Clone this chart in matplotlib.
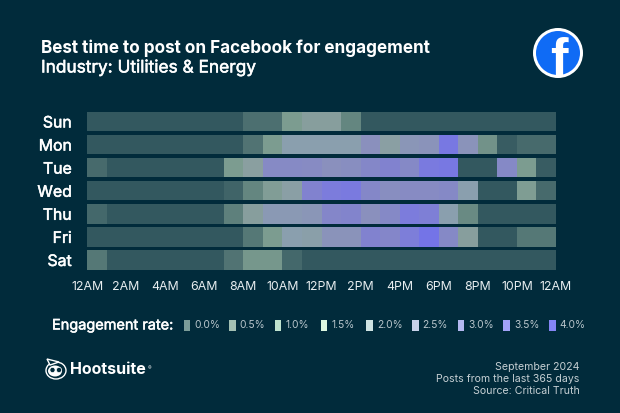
import numpy as np
import matplotlib.pyplot as plt
import matplotlib.patheffects as pe
from matplotlib.colors import LinearSegmentedColormap
from matplotlib.patches import Circle, Ellipse, Polygon, Rectangle

plt.rcParams['font.family'] = ['Inter', 'DejaVu Sans']

W, H = 620, 413
BG = '#012b3b'

days = ['Sun', 'Mon', 'Tue', 'Wed', 'Thu', 'Fri', 'Sat']
hour_labels = ['12AM', '2AM', '4AM', '6AM', '8AM', '10AM', '12PM',
               '2PM', '4PM', '6PM', '8PM', '10PM', '12AM']

# engagement rate by hour
sun = [0, 0, 0, 0, 0, 0, 0, 0, .5, .5, 1.0, 1.4, 1.4, .75, 0, 0, 0, 0, 0, 0, 0, 0, 0, 0]
mon = [0, 0, 0, 0, 0, 0, 0, 0, .55, 1.0, 2.0, 2.0, 2.0, 2.0, 2.5, 1.6, 2.3, 2.4, 3.7, 2.4, .9, .1, .4, .4]
tue = [.4, 0, 0, 0, 0, 0, 0, 1.0, 1.5, 2.75, 2.75, 2.7, 2.5, 2.6, 2.85, 3.1, 2.8, 3.6, 3.7, 0, 0, 2.8, 1.0, .1]
wed = [0, 0, 0, 0, 0, 0, 0, .25, .75, 1.2, 1.7, 3.1, 3.5, 3.6, 2.85, 2.6, 2.7, 2.7, 2.8, 2.0, 0, 0, 1.1, .4]
thu = [.35, 0, 0, 0, 0, 0, 0, .7, 1.4, 2.2, 2.2, 2.3, 2.9, 3.0, 2.5, 2.8, 3.5, 3.3, 2.0, .8, 0, 0, 0, 0]
fri = [0, 0, 0, 0, 0, 0, 0, 0, .6, 1.0, 2.0, 1.8, 2.4, 2.4, 3.1, 2.9, 3.4, 3.9, 2.8, 1.4, 0, 0, .6, .6]
sat = [.6, 0, 0, 0, 0, 0, 0, .55, .95, .95, .35, 0, 0, 0, 0, 0, 0, 0, 0, 0, 0, 0, 0, 0]
rates = [sun, mon, tue, wed, thu, fri, sat]

legend_values = ['0.0%', '0.5%', '1.0%', '1.5%', '2.0%', '2.5%', '3.0%', '3.5%', '4.0%']
legend_colors = ['#7c9d99', '#a3c0b3', '#bfe3cf', '#def8e0', '#cfe3e2',
                 '#c8d2ea', '#b4b8f0', '#a3a3f8', '#8585f5']
cell_colors = ['#33585f', '#4c6f70', '#7c9c90', '#8a9fa0', '#8a9fae',
               '#8a90bd', '#8284cc', '#7c7cdc', '#7272ea']
cmap = LinearSegmentedColormap.from_list('rate', cell_colors)

# the reference font is heavier than Inter regular, so fatten it a little
semi = [pe.withStroke(linewidth=0.35, foreground='white')]

fig = plt.figure(figsize=(W / 100, H / 100), dpi=100, facecolor=BG)

# overlay in pixel coordinates for the title, legend and logos
over = fig.add_axes([0, 0, 1, 1])
over.set_xlim(0, W)
over.set_ylim(H, 0)
over.axis('off')

# heatmap
left, right, top, bottom = 87, 556, 110, 271.5
ax = fig.add_axes([left / W, 1 - bottom / H, (right - left) / W, (bottom - top) / H])
ax.set_facecolor(BG)
for row, values in enumerate(rates):
    ax.barh(row, [1] * 24, left=np.arange(24), height=0.845,
            color=cmap(np.array(values) / 4), linewidth=0)
ax.set_xlim(0, 24)
ax.set_ylim(6.5, -0.5)
ax.set_xticks(np.arange(0, 25, 2))
ax.set_xticklabels(hour_labels, color='#e8eef0', fontsize=8.9)
ax.set_yticks(range(7))
ax.set_yticklabels(days, color='white', fontsize=11.4, path_effects=semi)
ax.tick_params(length=0)
ax.tick_params(axis='x', pad=6.5)
ax.tick_params(axis='y', pad=11)
for s in ax.spines.values():
    s.set_visible(False)

# heading
over.text(41, 48, 'Best time to post on Facebook for engagement', color='white',
          fontsize=12.35, fontweight='bold', va='center')
over.text(41, 68, 'Industry: Utilities & Energy', color='white',
          fontsize=12.45, va='center', path_effects=semi)

# legend
over.text(52, 325.5, 'Engagement rate:', color='white', fontsize=10.45,
          va='center', path_effects=semi)
for i, (label, c) in enumerate(zip(legend_values, legend_colors)):
    x = 183.5 + i * 45.7
    over.add_patch(Rectangle((x, 320), 6.5, 11, color=c, lw=0))
    over.text(x + 10.5, 325.5, label, color='#b9c6cc', fontsize=7.4, va='center')

# footer
footer = ['September 2024', 'Posts from the last 365 days', 'Source: Critical Truth']
for y, line in zip([367.5, 379.5, 391], footer):
    over.text(579.5, y, line, color='#c5cfd3', fontsize=7.6, ha='right', va='center')

# facebook badge
over.add_patch(Circle((558, 53), 25, color='white', lw=0))
blue = Circle((558, 53), 22, color='#0f6bf5', lw=0)
over.add_patch(blue)
over.text(559, 62, 'f', color='white', fontsize=38, fontweight='bold', ha='center',
          va='center', family='Liberation Sans', clip_path=blue, clip_on=True)

# hootsuite owl
over.add_patch(Ellipse((56, 370.5), 20, 17, fc=BG, ec='white', lw=1))
over.add_patch(Polygon([[47, 359], [59, 362], [50, 365]], fc=BG, ec='white', lw=1))
over.add_patch(Ellipse((55, 371), 14, 11, color='white', lw=0))
for ex in [52.5, 59]:
    over.add_patch(Circle((ex, 370), 2.6, fc=BG, ec='white', lw=0.5))
over.text(70, 370, 'Hootsuite', color='white', fontsize=11.5, fontweight='bold', va='center')
over.text(148, 369, '®', color='white', fontsize=4, va='center')

fig.savefig('out.png', dpi=100, facecolor=BG)
